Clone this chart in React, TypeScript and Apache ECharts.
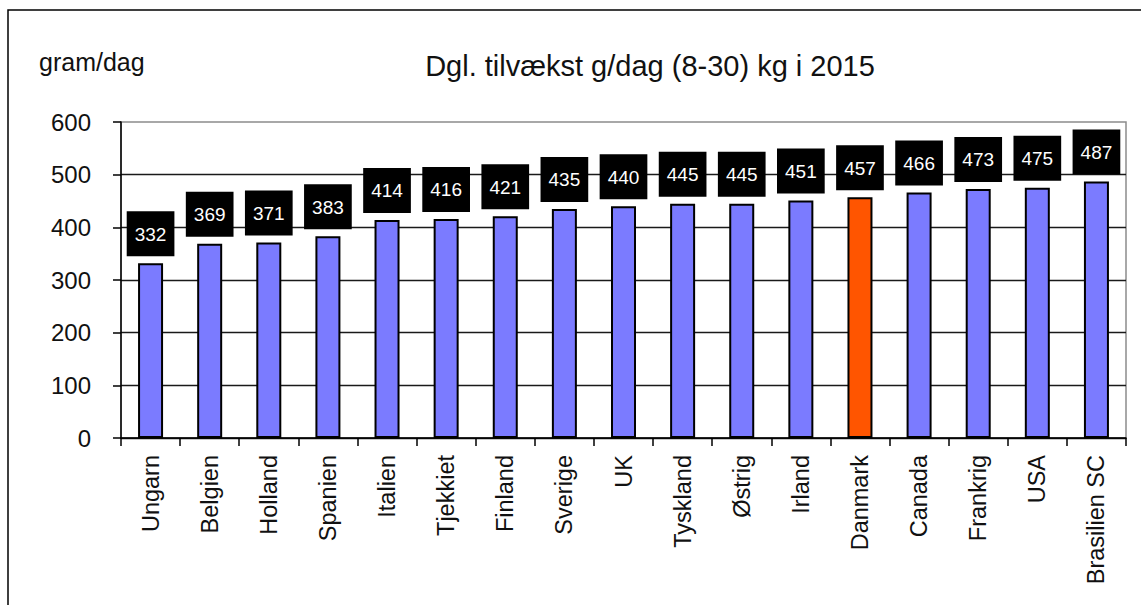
import React, { useEffect, useRef } from "react";
import * as echarts from "echarts";

const categories = [
  "Ungarn", "Belgien", "Holland", "Spanien", "Italien", "Tjekkiet", "Finland", "Sverige",
  "UK", "Tyskland", "Østrig", "Irland", "Danmark", "Canada", "Frankrig", "USA", "Brasilien SC",
];
const values = [332, 369, 371, 383, 414, 416, 421, 435, 440, 445, 445, 451, 457, 466, 473, 475, 487];
const highlighted = "Danmark";
const yTicks = [0, 100, 200, 300, 400, 500, 600];
const titleText = "Dgl. tilvækst g/dag (8-30) kg i 2015";
const unitText = "gram/dag";

const FONT = "'Liberation Sans', Arial, sans-serif";

export default function App() {
  const ref = useRef<HTMLDivElement>(null);
  useEffect(() => {
    if (!ref.current) return;
    const chart = echarts.init(ref.current, null, { renderer: "svg" });
    chart.setOption({
      animation: false,
      backgroundColor: "#ffffff",
      textStyle: { fontFamily: FONT },
      grid: {
        left: 121,
        right: 15,
        top: 122,
        bottom: 167,
        show: true,
        borderColor: "#8c8c8c",
        borderWidth: 1.5,
        backgroundColor: "transparent",
      },
      graphic: [
        {
          type: "rect",
          shape: { x: 8, y: 10, width: 1160, height: 620 },
          style: { fill: "none", stroke: "#000", lineWidth: 1.5 },
          silent: true,
        },
        {
          type: "text",
          x: 650,
          y: 66,
          style: {
            text: titleText,
            fontSize: 29,
            fontFamily: FONT,
            fill: "#111",
            align: "center",
            verticalAlign: "middle",
          },
        },
        {
          type: "text",
          x: 39,
          y: 62,
          style: {
            text: unitText,
            fontSize: 25,
            fontFamily: FONT,
            fill: "#111",
            align: "left",
            verticalAlign: "middle",
          },
        },
      ],
      xAxis: {
        type: "category",
        data: categories,
        boundaryGap: true,
        axisLine: { show: true, lineStyle: { color: "#000", width: 1.5 } },
        axisTick: { show: true, length: 8, lineStyle: { color: "#000", width: 1.5 } },
        axisLabel: {
          rotate: 90,
          interval: 0,
          fontSize: 23.5,
          color: "#111",
          margin: 17,
          fontFamily: FONT,
        },
      },
      yAxis: {
        type: "value",
        min: yTicks[0],
        max: yTicks[yTicks.length - 1],
        interval: 100,
        axisLine: { show: true, lineStyle: { color: "#000", width: 1.5 } },
        axisTick: { show: true, length: 8, lineStyle: { color: "#000", width: 1.5 } },
        axisLabel: { fontSize: 24, color: "#111", margin: 30, fontFamily: FONT },
        splitLine: {
          show: true,
          showMaxLine: false,
          lineStyle: { color: "#1a1a1a", width: 1.3 },
        },
      },
      series: [
        {
          type: "bar",
          barWidth: 25,
          data: values.map((v, i) => ({
            value: v,
            itemStyle: {
              color: categories[i] === highlighted ? "#FF5500" : "#7B7BFF",
            },
          })),
          itemStyle: { borderColor: "#000", borderWidth: 2 },
          label: {
            show: true,
            position: "top",
            distance: 7,
            backgroundColor: "#000",
            color: "#fff",
            fontSize: 19,
            lineHeight: 20,
            padding: [13, 8, 12, 8],
            fontFamily: FONT,
          },
        },
      ],
    });
    return () => chart.dispose();
  }, []);
  return (
    <div
      ref={ref}
      style={{ position: "fixed", left: 0, top: 0, width: 1141, height: 605 }}
    />
  );
}
